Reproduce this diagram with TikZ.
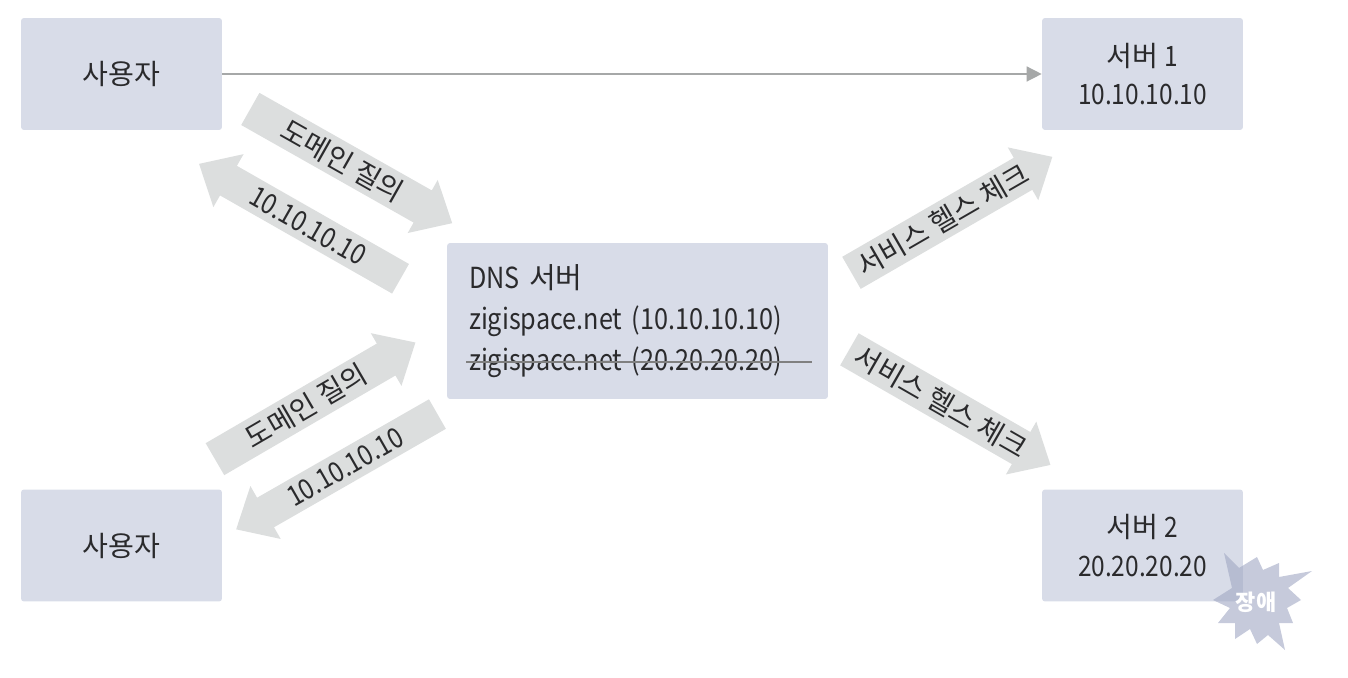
\documentclass[tikz,border=0pt]{standalone}
\usepackage{fontspec}
\setmainfont{Noto Sans CJK KR}
\newfontfamily\numfont{Noto Sans CJK KR}[FakeStretch=0.87]
\usetikzlibrary{arrows.meta,shapes.arrows}
\definecolor{boxblue}{HTML}{D8DCE8}
\definecolor{arrowgray}{HTML}{DCDEDE}
\definecolor{lineGray}{HTML}{A6A8A8}
\definecolor{burstblue}{HTML}{A0A7C3}
\definecolor{inkblack}{HTML}{2A2A2C}
\tikzset{
    hostbox/.style={fill=boxblue,rounded corners=0.06cm,minimum width=4.02cm,minimum height=2.24cm,
        inner sep=0pt,align=center,text=inkblack,font=\fontsize{16}{22}\selectfont},
    msgarrow/.style={single arrow,fill=arrowgray,minimum width=1.22cm,minimum height=4.64cm,
        single arrow head extend=0.17cm,single arrow tip angle=84,inner sep=0pt,
        text=inkblack,font=\fontsize{16}{18}\selectfont},
    back/.style={shape border rotate=180}
}
\begin{document}
\begin{tikzpicture}[x=0.02cm,y=-0.02cm]
    \useasboundingbox (0,0) rectangle (1348,678);

    \node[hostbox] (user1) at (121.5,74) {사용자};
    \node[hostbox] (user2) at (121.5,545.5) {사용자};
    \node[hostbox] (server1) at (1142.5,74) {서버 {\numfont 1}\\{\numfont 10.10.10.10}};
    \node[hostbox] (server2) at (1142.5,545.5) {서버 {\numfont 2}\\{\numfont 20.20.20.20}};
    \node[hostbox,minimum width=7.62cm,minimum height=3.12cm,text width=6.74cm,align=left,
        font=\fontsize{16.5}{23.4}\selectfont] (dns) at (637.5,321)
        {{\numfont DNS} 서버\\{\numfont zigispace.net (10.10.10.10)}\\{\numfont zigispace.net (20.20.20.20)}};

    \draw[lineGray,line width=0.8pt,-{Triangle[length=0.3cm,width=0.3cm]}] (user1) -- (server1);

    \node[msgarrow,rotate=-29.5] (query1) at (342.3,161) {도메인 질의};
    \node[msgarrow,back,rotate=-29.7] (reply1) at (308,226) {\numfont 10.10.10.10};
    \node[msgarrow,rotate=30.2] (query2) at (306.3,406) {도메인 질의};
    \node[msgarrow,back,rotate=29.8] (reply2) at (345,467) {\numfont 10.10.10.10};
    \node[msgarrow,rotate=30] (check1) at (943,220) {서비스 헬스 체크};
    \node[msgarrow,rotate=-29.9] (check2) at (941,402) {서비스 헬스 체크};

    % line through the dead record
    \coordinate (strikeL) at (466,362);
    \coordinate (strikeR) at (812,362);
    \draw[gray,line width=1.1pt] (strikeL) -- (strikeR);

    \fill[burstblue,fill opacity=0.6] (1224,553) -- (1239,568) -- (1257,557) -- (1263,570) -- (1279,563)
        -- (1279,577) -- (1312,571) -- (1288,588) -- (1301,600) -- (1287,608) -- (1293,623)
        -- (1279,623) -- (1285,650) -- (1268,635) -- (1257,644) -- (1250,629) -- (1235,639)
        -- (1235,623) -- (1218,623) -- (1230,608) -- (1213,600) -- (1232,588) -- cycle;
    \node[text=white,font=\fontsize{12.5}{14}\selectfont\bfseries,inner sep=0pt] (fault) at (1256,602) {장애};
\end{tikzpicture}
\end{document}
